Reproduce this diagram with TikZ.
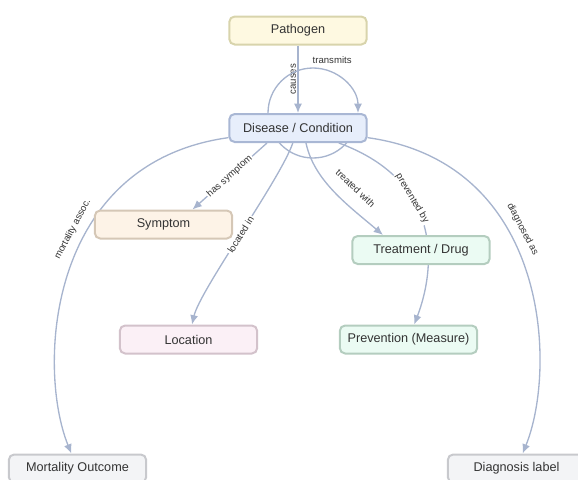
\documentclass[tikz,border=0pt]{standalone}
\usepackage{fontspec}
\setmainfont{Liberation Sans}
\usepackage{tikz}
\usetikzlibrary{arrows.meta,backgrounds,calc}

\definecolor{edgeblue}{HTML}{A7B4CE}
\definecolor{textgray}{HTML}{333333}
\definecolor{yellowfill}{HTML}{FEF9E1}
\definecolor{yellowline}{HTML}{D8D4AC}
\definecolor{bluefill}{HTML}{E7EEFB}
\definecolor{blueline}{HTML}{A9B7D4}
\definecolor{peachfill}{HTML}{FDF3E7}
\definecolor{peachline}{HTML}{D5C7B6}
\definecolor{mintfill}{HTML}{EBFBF3}
\definecolor{mintline}{HTML}{B4CDBF}
\definecolor{pinkfill}{HTML}{FBF0F6}
\definecolor{pinkline}{HTML}{D3C2CB}
\definecolor{grayfill}{HTML}{F3F4F6}
\definecolor{grayline}{HTML}{C8C9CD}

\begin{document}
\begin{tikzpicture}[x=0.75pt,y=-0.75pt,
        box/.style = {rectangle, rounded corners=4pt,
        line width=1.5pt,
        minimum width=103pt, minimum height=21pt,
        text=textgray, font=\fontsize{9.5}{11}\selectfont},
        link/.style = {draw=edgeblue, line width=1pt,
        -{Latex[length=7pt,width=6pt]}},
        lbl/.style = {text=textgray, inner sep=1pt,
        font=\fontsize{7.2}{8}\selectfont}]

        \useasboundingbox (0,0) rectangle (578,479);

        % Pathogen
        \node [box,fill=yellowfill,draw=yellowline] (pathogen) at (298,30.5) {Pathogen};

        % Disease
        \node [box,fill=bluefill,draw=blueline] (disease) at (298,128) {Disease / Condition};

        % Symptom
        \node [box,fill=peachfill,draw=peachline] (symptom) at (163.5,224.5) {Symptom};

        % Treatment
        \node [box,fill=mintfill,draw=mintline] (treatment) at (421,250) {Treatment / Drug};

        % Location
        \node [box,fill=pinkfill,draw=pinkline] (location) at (188.5,339.5) {Location};

        % Prevention
        \node [box,fill=mintfill,draw=mintline] (prevention) at (408.5,339.5) {Prevention (Measure)};

        % Outcomes at the bottom
        \node [box,fill=grayfill,draw=grayline] (mortality) at (77.5,468.5) {Mortality Outcome};
        \node [box,fill=grayfill,draw=grayline] (diagnosis) at (516.5,468.5) {Diagnosis label};

        % Edges behind the boxes
        \begin{scope}[on background layer]
            \draw[link] (pathogen) -- node[lbl,rotate=90,anchor=south] {causes} (disease);

            \draw[link] ($(disease.north)+(60,0)$) arc[start angle=360, end angle=0, radius=33.75pt]
                node[lbl,pos=0.82,above=5pt] {transmits};

            \draw[link] ($(disease.south)+(-31,0)$) --
                node[lbl,sloped,fill=white] {has symptom} ($(symptom.north)+(29,0)$);

            \draw[link] (disease) .. controls (46,163) and (37,369) ..
                node[lbl,sloped,above=5pt,pos=0.4] {mortality assoc.} (mortality);

            \draw[link] (disease) .. controls (280,180) and (200,290) ..
                node[lbl,sloped,fill=white] {located in} (location);

            \draw[link] ($(disease.south)+(8,0)$) .. controls (314,181) and (349,206) ..
                node[lbl,sloped,above=9pt,pos=0.6] {treated with} ($(treatment.north)+(-38,0)$);

            \draw[link] (disease) .. controls (445,182) and (435,270) ..
                node[lbl,sloped,fill=white,pos=0.35] {prevented by} (prevention);

            \draw[link] (disease) .. controls (550,163) and (557,369) ..
                node[lbl,sloped,above=5pt,pos=0.4] {diagnosed as} (diagnosis);
        \end{scope}

    \end{tikzpicture}
\end{document}
